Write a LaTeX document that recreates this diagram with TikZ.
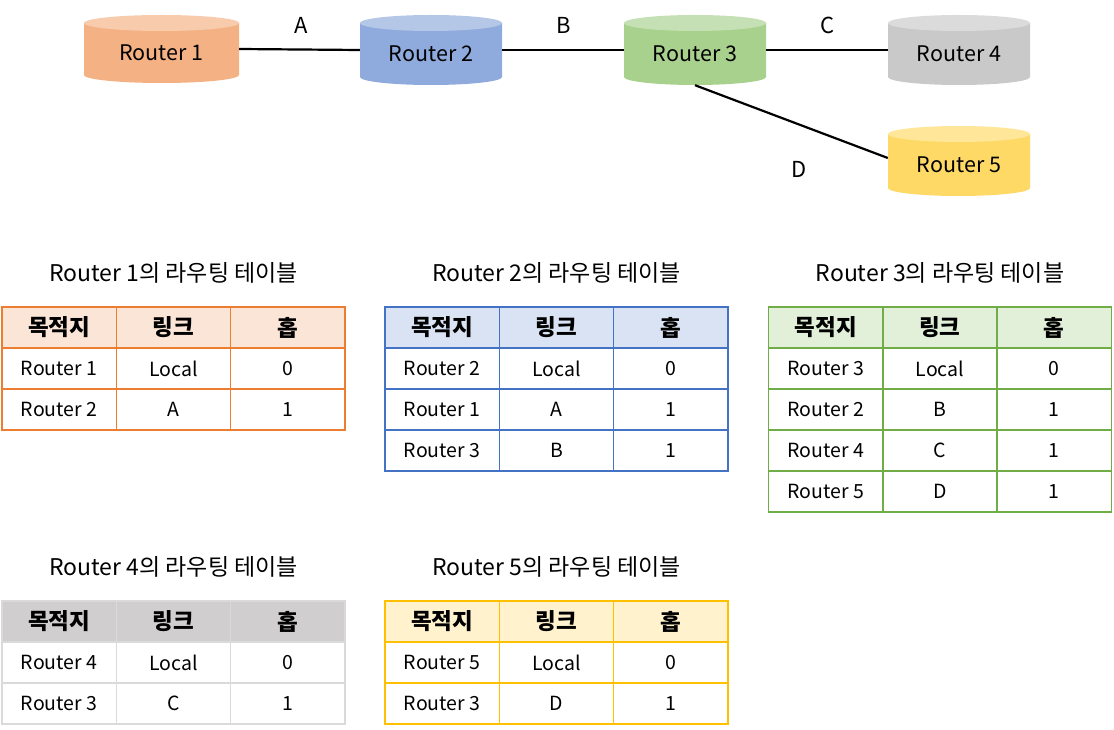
\documentclass[tikz,border=0pt]{standalone}
\usepackage{fontspec}
\setmainfont{Noto Sans CJK KR}
\usetikzlibrary{calc}

\definecolor{r1body}{HTML}{F4B183} \definecolor{r1top}{HTML}{F8CBAD}
\definecolor{r2body}{HTML}{8FAADC} \definecolor{r2top}{HTML}{B4C7E7}
\definecolor{r3body}{HTML}{A9D18E} \definecolor{r3top}{HTML}{C5E0B4}
\definecolor{r4body}{HTML}{C9C9C9} \definecolor{r4top}{HTML}{DBDBDB}
\definecolor{r5body}{HTML}{FFD966} \definecolor{r5top}{HTML}{FFE699}
\definecolor{oline}{HTML}{ED7D31} \definecolor{ohead}{HTML}{FBE5D6}
\definecolor{bline}{HTML}{4472C4} \definecolor{bhead}{HTML}{DAE3F3}
\definecolor{gline}{HTML}{70AD47} \definecolor{ghead}{HTML}{E2F0D9}
\definecolor{kline}{HTML}{DADADA} \definecolor{khead}{HTML}{D0CECE}
\definecolor{yline}{HTML}{FFC000} \definecolor{yhead}{HTML}{FFF2CC}

\tikzset{
  router/.style 2 args={minimum width=142pt, minimum height=70pt, inner sep=0pt,
    text height=25pt, text depth=1pt, font=\fontsize{21.5}{21.5}\selectfont,
    path picture={
      \fill[#1] let \p1=(path picture bounding box.north west), \p2=(path picture bounding box.south east) in
        (\x1,\y1-8pt) -- (\x1,\y2+8pt)
        arc[start angle=180, end angle=360, x radius={(\x2-\x1)/2}, y radius=8pt]
        -- (\x2,\y1-8pt) -- cycle;
      \fill[#2] let \p1=(path picture bounding box.north west), \p2=(path picture bounding box.south east) in
        ({(\x1+\x2)/2},\y1-8pt) ellipse[x radius={(\x2-\x1)/2}, y radius=8pt];
    }},
  link/.style={line width=2.2pt},
  lbl/.style={font=\fontsize{22}{22}\selectfont},
  tabtitle/.style={font=\fontsize{23}{23}\selectfont},
  cell/.style={draw, line width=1.5pt, minimum width=114.33pt, minimum height=41pt, inner sep=0pt,
    font=\fontsize{19.5}{19.5}\selectfont},
  head/.style={cell, font=\fontsize{22.5}{22.5}\selectfont\bfseries},
}

% routing table: name, left x, top y, colour prefix, title, rows
\newcommand{\rtable}[6]{%
  \node[tabtitle] (#1-title) at (#2+171.5,#3+34) {#5};
  \foreach \hcol/\htext in {1/목적지,2/링크,3/홉}
    \node[head, draw=#4line, fill=#4head] (#1-0-\hcol) at (#2-57.17+114.33*\hcol,#3-20.5) {\htext};
  \foreach \tdest/\tlink/\thop [count=\trow] in {#6} {
    \node[cell, draw=#4line] (#1-\trow-1) at (#2+57.17,#3-20.5-41*\trow) {\tdest};
    \node[cell, draw=#4line] (#1-\trow-2) at (#2+171.5,#3-20.5-41*\trow) {\tlink};
    \node[cell, draw=#4line] (#1-\trow-3) at (#2+285.83,#3-20.5-41*\trow) {\thop};
  }
}

\begin{document}
\begin{tikzpicture}[x=1pt, y=1pt]
 \useasboundingbox (0,0) rectangle (1114,-730);

 \node[router={r1body}{r1top}, minimum width=155pt, minimum height=68pt] (r1) at (161.5,-49) {Router 1};
 \node[router={r2body}{r2top}] (r2) at (431,-50) {Router 2};
 \node[router={r3body}{r3top}] (r3) at (695,-50) {Router 3};
 \node[router={r4body}{r4top}] (r4) at (959,-50) {Router 4};
 \node[router={r5body}{r5top}] (r5) at (959,-161) {Router 5};

 \draw[link] (r1.east) -- (r2.west);
 \draw[link] (r2.east) -- (r3.west);
 \draw[link] (r3.east) -- (r4.west);
 \draw[link] (r3.south) -- ([yshift=3pt]r5.west);

 \node[lbl] (la) at (301,-25) {A};
 \node[lbl] (lb) at (564,-25) {B};
 \node[lbl] (lc) at (828,-25) {C};
 \node[lbl] (ld) at (799,-169) {D};

 \rtable{t1}{2}{-307}{o}{Router 1의 라우팅 테이블}{Router 1/Local/0, Router 2/A/1}
 \rtable{t2}{385}{-307}{b}{Router 2의 라우팅 테이블}{Router 2/Local/0, Router 1/A/1, Router 3/B/1}
 \rtable{t3}{768.5}{-307}{g}{Router 3의 라우팅 테이블}{Router 3/Local/0, Router 2/B/1, Router 4/C/1, Router 5/D/1}
 \rtable{t4}{2}{-601}{k}{Router 4의 라우팅 테이블}{Router 4/Local/0, Router 3/C/1}
 \rtable{t5}{385}{-601}{y}{Router 5의 라우팅 테이블}{Router 5/Local/0, Router 3/D/1}
\end{tikzpicture}
\end{document}
